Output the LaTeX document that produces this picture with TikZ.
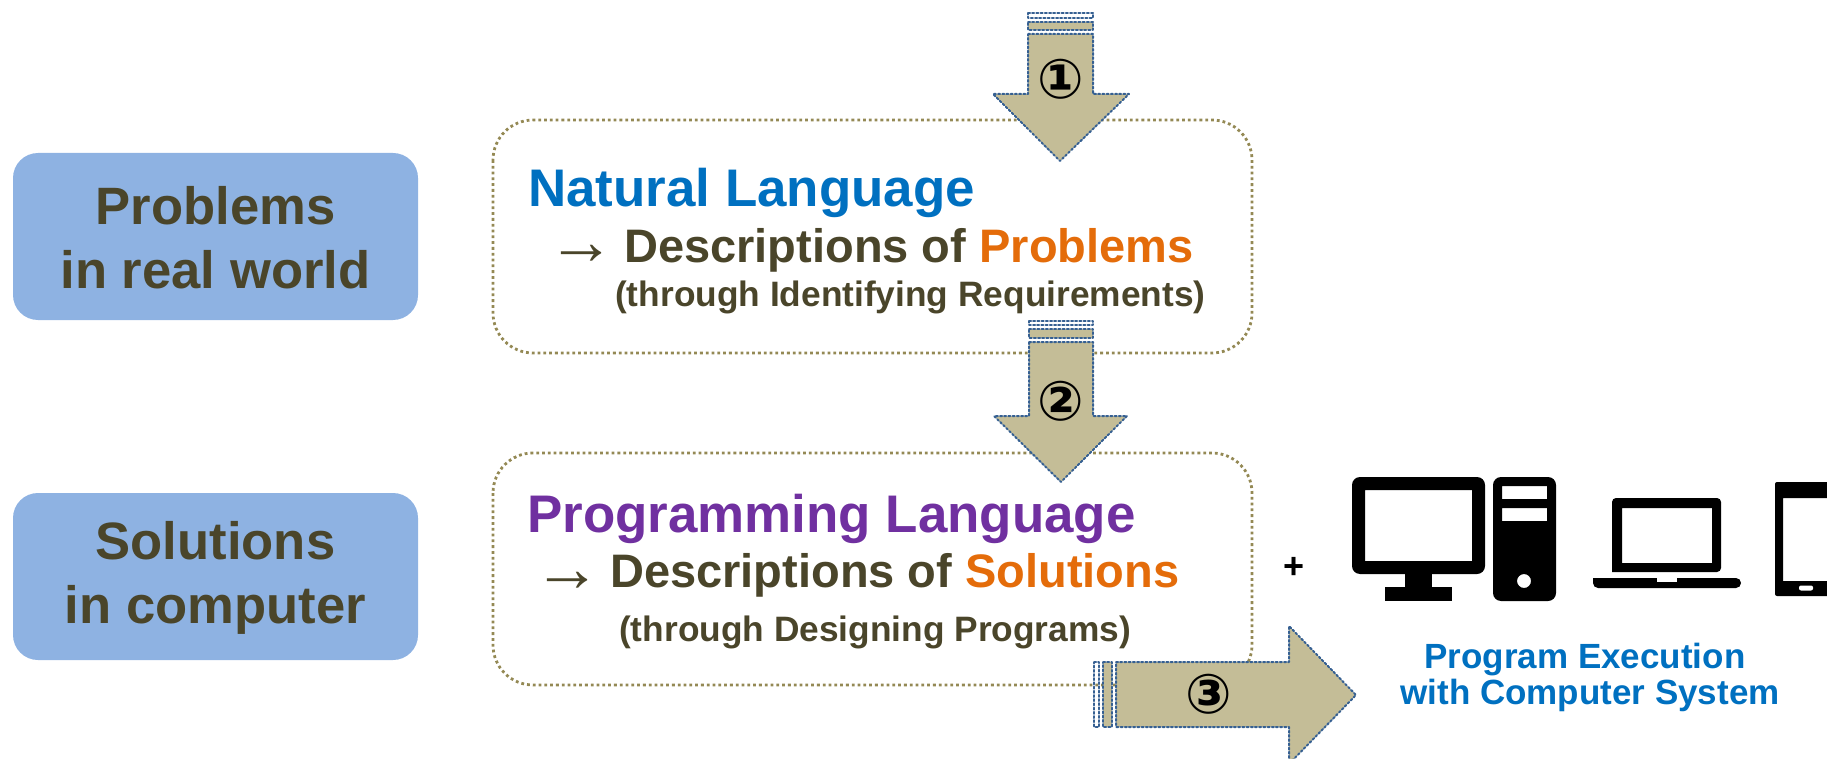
\documentclass[tikz,border=0pt]{standalone}
\usepackage{fontspec}
\setmainfont{Liberation Sans}
\newfontfamily\circfont{DejaVu Sans}
\newfontfamily\leadfont{Liberation Serif}
\usepackage{tkz-euclide}
\definecolor{BlueBoxClr}{RGB}{142,178,226}
\definecolor{TitleClr}{RGB}{74,69,42}
\definecolor{NaturalClr}{RGB}{0,112,192}
\definecolor{PurpleClr}{RGB}{112,48,160}
\definecolor{OrangeClr}{RGB}{228,108,10}
\definecolor{ArrowClr}{RGB}{196,189,151}
\definecolor{DotClr}{RGB}{54,96,146}
\definecolor{FrameClr}{RGB}{148,137,84}
\tikzset{
  bluebox/.style={fill=BlueBoxClr,rounded corners=25pt,minimum width=405pt,minimum height=167pt},
  boxtext/.style={inner sep=0pt,text=TitleClr,align=center,font=\bfseries\fontsize{52.6}{64}\selectfont},
  frame/.style={draw=FrameClr,line width=2.8pt,dash pattern=on 2.8pt off 3pt,rounded corners=40pt},
  arrowline/.style={color=DotClr,line width=2pt,dash pattern=on 2pt off 2.2pt},
  txt/.style={anchor=base west,inner sep=0pt},
  heading/.style={txt,font=\bfseries\fontsize{52.9}{60}\selectfont},
  descr/.style={txt,text=TitleClr,font=\bfseries\fontsize{47}{54}\selectfont},
  through/.style={txt,text=TitleClr,font=\bfseries\fontsize{35.3}{42}\selectfont},
  lead/.style={txt,text=TitleClr,font=\leadfont\fontsize{68}{70}\selectfont},
  number/.style={inner sep=0pt,font=\circfont\bfseries\fontsize{55}{55}\selectfont},
  exec/.style={anchor=base,inner sep=0pt,text=NaturalClr,font=\bfseries\fontsize{35}{40}\selectfont}
}

\begin{document}
\begin{tikzpicture}[x=1pt,y=-1pt]
\useasboundingbox (0,0) rectangle (1827,759);
\clip (0,0) rectangle (1827,759);

\node[bluebox] (problems) at (215.5,236.5) {};
\node[bluebox] (solutions) at (215.5,576.5) {};
\node[boxtext] (problemsText) at (215.5,238) {Problems\\in real world};
\node[boxtext] (solutionsText) at (215.5,578) {Solutions\\in computer};

\draw[frame] (493,120) rectangle (1252,353);
\draw[frame] (493,453) rectangle (1252,685);

\node[heading,text=NaturalClr] (natural) at (528,207) {Natural Language};
\node[lead] (leadA) at (547,264.5) {→};
\node[descr] (descrA) at (624,262) {Descriptions of \textcolor{OrangeClr}{Problems}};
\node[through] (throughA) at (615,306) {(through Identifying Requirements)};

\node[heading,text=PurpleClr] (programming) at (527,532) {Programming Language};
\node[lead] (leadB) at (533,591) {→};
\node[descr] (descrB) at (610,587) {Descriptions of \textcolor{OrangeClr}{Solutions}};
\node[through] (throughB) at (619,641) {(through Designing Programs)};

% arrow one
\tkzDefPoints{1028/34/Aa,1093/34/Ab,1093/94/Ac,1129/94/Ad,1060/161/Ae,993/94/Af,1028/94/Ag}
\tkzDefPoints{1028/13/Ah,1093/13/Ai,1093/18/Aj,1028/18/Ak,1028/22/Al,1093/22/Am,1093/30/An,1028/30/Ao}
% arrow two
\tkzDefPoints{1029/342/Ba,1093/342/Bb,1093/416/Bc,1127/416/Bd,1061/482/Be,994/416/Bf,1029/416/Bg}
\tkzDefPoints{1029/321/Bh,1093/321/Bi,1093/325/Bj,1029/325/Bk,1029/329/Bl,1093/329/Bm,1093/338/Bn,1029/338/Bo}
% arrow three
\tkzDefPoints{1116/662/Ca,1289/662/Cb,1289/626/Cc,1356/695/Cd,1289/764/Ce,1289/727/Cf,1116/727/Cg}
\tkzDefPoints{1094/662/Ch,1099/662/Ci,1099/727/Cj,1094/727/Ck,1103/662/Cl,1112/662/Cm,1112/727/Cn,1103/727/Co}

\tkzFillPolygon[fill=ArrowClr](Aa,Ab,Ac,Ad,Ae,Af,Ag)
\tkzFillPolygon[fill=ArrowClr](Al,Am,An,Ao)
\tkzFillPolygon[fill=ArrowClr](Ba,Bb,Bc,Bd,Be,Bf,Bg)
\tkzFillPolygon[fill=ArrowClr](Bl,Bm,Bn,Bo)
\tkzFillPolygon[fill=ArrowClr](Ca,Cb,Cc,Cd,Ce,Cf,Cg)
\tkzFillPolygon[fill=ArrowClr](Cl,Cm,Cn,Co)

\tkzDrawPolygon[arrowline](Aa,Ab,Ac,Ad,Ae,Af,Ag)
\tkzDrawPolygon[arrowline](Ah,Ai,Aj,Ak)
\tkzDrawPolygon[arrowline](Al,Am,An,Ao)
\tkzDrawPolygon[arrowline](Ba,Bb,Bc,Bd,Be,Bf,Bg)
\tkzDrawPolygon[arrowline](Bh,Bi,Bj,Bk)
\tkzDrawPolygon[arrowline](Bl,Bm,Bn,Bo)
\tkzDrawPolygon[arrowline](Ca,Cb,Cc,Cd,Ce,Cf,Cg)
\tkzDrawPolygon[arrowline](Ch,Ci,Cj,Ck)
\tkzDrawPolygon[arrowline](Cl,Cm,Cn,Co)

\node[number] (one) at (1061,79) {①};
\node[number] (two) at (1061,401) {②};
\node[number] (three) at (1209,694) {③};

\node[inner sep=0pt,font=\bfseries\fontsize{36}{36}\selectfont] (plus) at (1294,568) {+};

% monitor
\fill[even odd rule] [rounded corners=8pt] (1352,477) rectangle (1485,574)
  [sharp corners] (1365,490) rectangle (1472,561);
\fill (1405,570) rectangle (1432,590);
\fill (1385,587) rectangle (1452,601);
% tower
\fill[even odd rule] [rounded corners=8pt] (1493,477) rectangle (1556,601)
  [sharp corners] (1502,486) rectangle (1547,499) (1502,508) rectangle (1547,521)
  (1524,581) circle (7);
% laptop
\fill[even odd rule] [rounded corners=4pt] (1612,572) -- (1612,498) -- (1721,498) -- (1721,572) [sharp corners] -- cycle
  (1622,508) rectangle (1712,563);
\fill[rounded corners=5pt] (1593,578) -- (1593,588) -- (1741,588) -- (1741,578) [sharp corners] -- cycle;
\fill[white] (1657,577) rectangle (1677,582);
% tablet
\fill[even odd rule] [rounded corners=2pt] (1775,482) rectangle (1837,596)
  [sharp corners] (1783,498) rectangle (1829,581);
\fill[white,rounded corners=2pt] (1799,585.5) rectangle (1813,590.5);

\node[exec] (execA) at (1585,668) {Program Execution};
\node[exec] (execB) at (1590,704) {with Computer System};

\end{tikzpicture}
\end{document}
